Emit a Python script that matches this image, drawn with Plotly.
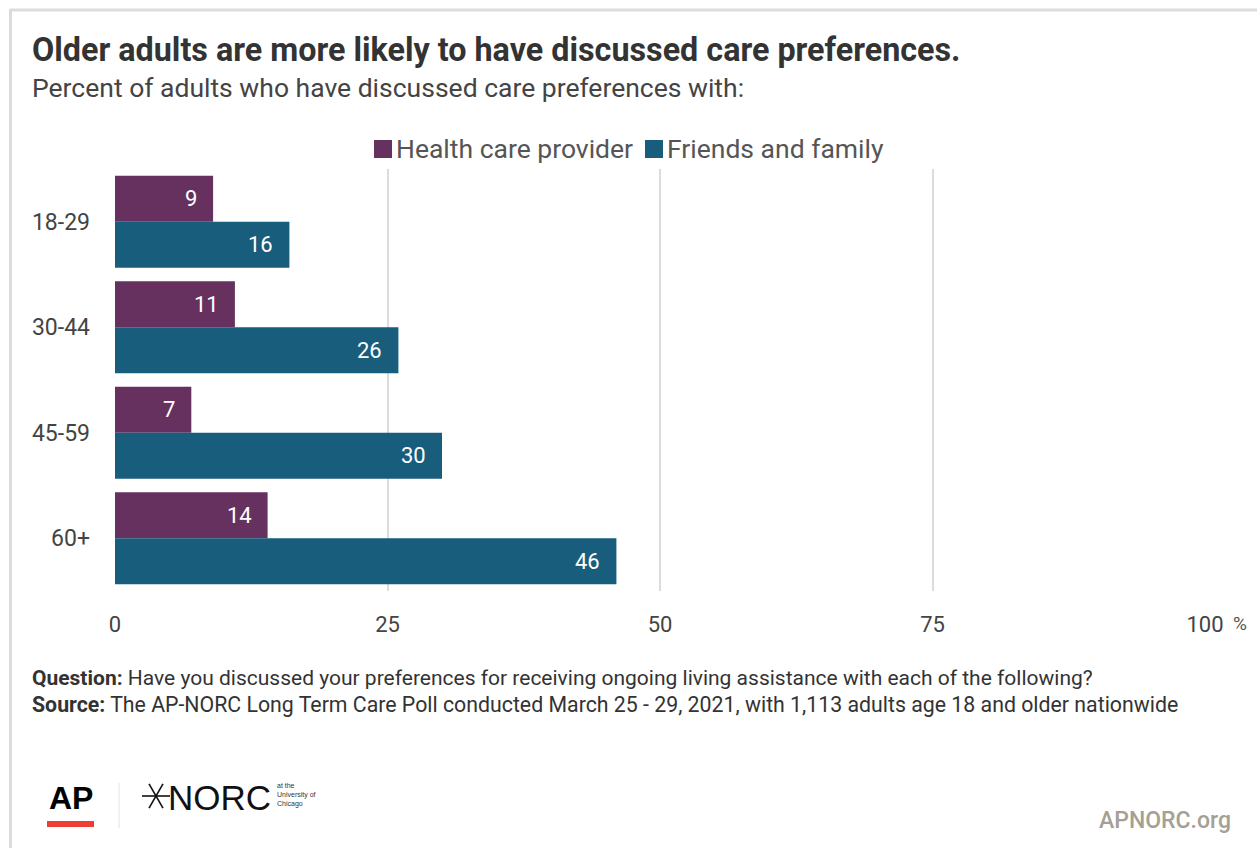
import math
import plotly.graph_objects as go

# Survey results (percent)
age_groups = ["18-29", "30-44", "45-59", "60+"]
health_care_provider = [9, 11, 7, 14]
friends_and_family = [16, 26, 30, 46]
series_names = ["Health care provider", "Friends and family"]
x_ticks = [0, 25, 50, 75, 100]

PURPLE = "#66305F"
TEAL = "#185D7C"
FONT = "Roboto"

W, H = 1257, 848
L, R, T, B = 115, 52, 169, 257
PW = W - L - R
PH = H - T - B


def px(x):
    return (x - L) / PW


def py(y):
    return (H - B - y) / PH


fig = go.Figure()
for name, vals, color in [(series_names[0], health_care_provider, PURPLE),
                          (series_names[1], friends_and_family, TEAL)]:
    fig.add_trace(go.Bar(
        y=age_groups, x=vals, name=name, orientation="h",
        marker=dict(color=color, line=dict(width=0)),
        showlegend=False, hoverinfo="x+y",
    ))

annotations = []
shapes = []

# value labels inside the bar ends
for i, vals in enumerate([health_care_provider, friends_and_family]):
    for g, v in zip(age_groups, vals):
        annotations.append(dict(
            x=v, y=g, xref="x", yref="y", text=str(v), showarrow=False,
            xanchor="right", xshift=-14, yshift=(1 if i == 0 else -1) * 23,
            font=dict(family=FONT, size=22, color="white"),
        ))

# title, subtitle
annotations.append(dict(x=px(30), y=py(50), xref="paper", yref="paper", xanchor="left",
                        yanchor="middle", showarrow=False,
                        text="<b>Older adults are more likely to have discussed care preferences.</b>",
                        font=dict(family=FONT, size=32.3, color="#333333")))
annotations.append(dict(x=px(30), y=py(87), xref="paper", yref="paper", xanchor="left",
                        yanchor="middle", showarrow=False,
                        text="Percent of adults who have discussed care preferences with:",
                        font=dict(family=FONT, size=26.5, color="#444444")))

# legend
leg = [(374, PURPLE, series_names[0]), (645, TEAL, series_names[1])]
for x0, c, name in leg:
    shapes.append(dict(type="rect", xref="paper", yref="paper",
                       x0=px(x0), x1=px(x0 + 18), y0=py(158), y1=py(140),
                       fillcolor=c, line=dict(width=0)))
    annotations.append(dict(x=px(x0 + 20), y=py(148), xref="paper", yref="paper",
                            xanchor="left", yanchor="middle", showarrow=False, text=name,
                            font=dict(family=FONT, size=26.5, color="#555555")))

# percent unit after last tick
annotations.append(dict(x=100, y=py(623), xref="x", yref="paper", xanchor="left",
                        yanchor="middle", xshift=26, showarrow=False, text="%",
                        font=dict(family=FONT, size=19, color="#555555")))

# notes
annotations.append(dict(x=px(30), y=py(678), xref="paper", yref="paper", xanchor="left",
                        yanchor="middle", showarrow=False,
                        text="<b>Question:</b> Have you discussed your preferences for receiving ongoing living assistance with each of the following?",
                        font=dict(family=FONT, size=21, color="#333333")))
annotations.append(dict(x=px(30), y=py(704), xref="paper", yref="paper", xanchor="left",
                        yanchor="middle", showarrow=False,
                        text="<b>Source:</b> The AP-NORC Long Term Care Poll conducted March 25 - 29, 2021, with 1,113 adults age 18 and older nationwide",
                        font=dict(family=FONT, size=21.3, color="#333333")))

# AP logo
annotations.append(dict(x=px(71), y=py(798), xref="paper", yref="paper", xanchor="center",
                        yanchor="middle", showarrow=False, text="<b>AP</b>",
                        font=dict(family="Liberation Sans", size=32, color="#000000")))
shapes.append(dict(type="rect", xref="paper", yref="paper", x0=px(47), x1=px(94),
                   y0=py(827), y1=py(821), fillcolor="#EF3E36", line=dict(width=0)))
shapes.append(dict(type="line", xref="paper", yref="paper", x0=px(119), x1=px(119),
                   y0=py(783), y1=py(828), line=dict(color="#e3e3e3", width=1)))

# NORC logo: thin six-point star + wordmark
cx, cy, r = 156, 796, 14
for ang in (0, 60, 120):
    a = math.radians(ang)
    shapes.append(dict(type="line", xref="paper", yref="paper",
                       x0=px(cx - r * math.cos(a)), x1=px(cx + r * math.cos(a)),
                       y0=py(cy - r * math.sin(a)), y1=py(cy + r * math.sin(a)),
                       line=dict(color="#111111", width=1.6)))
annotations.append(dict(x=px(166), y=py(797), xref="paper", yref="paper", xanchor="left",
                        yanchor="middle", showarrow=False, text="NORC",
                        font=dict(family="Liberation Sans", size=35, color="#111111")))
annotations.append(dict(x=px(275), y=py(795), xref="paper", yref="paper", xanchor="left",
                        yanchor="middle", showarrow=False, align="left",
                        text="at the<br>University of<br>Chicago",
                        font=dict(family="Liberation Sans", size=7, color="#333333")))

annotations.append(dict(x=px(1233), y=py(820), xref="paper", yref="paper", xanchor="right",
                        yanchor="middle", showarrow=False, text="APNORC.org",
                        font=dict(family=FONT, size=23, color="#A59F94", weight=500)))

# frame
shapes.append(dict(type="line", xref="paper", yref="paper", x0=px(10), x1=px(1257),
                   y0=py(10), y1=py(10), line=dict(color="#DCDCDC", width=3)))
shapes.append(dict(type="line", xref="paper", yref="paper", x0=px(10.5), x1=px(10.5),
                   y0=py(9), y1=py(848), line=dict(color="#DCDCDC", width=3)))

fig.update_layout(
    width=W, height=H,
    margin=dict(l=L, r=R, t=T, b=B, pad=0),
    paper_bgcolor="white", plot_bgcolor="white",
    barmode="group", bargap=0.128, bargroupgap=0,
    annotations=annotations, shapes=shapes,
    font=dict(family=FONT, color="#444444"),
    xaxis=dict(range=[0, 100], tickvals=x_ticks, ticktext=[str(t) for t in x_ticks],
               showgrid=True, gridcolor="#DCDCDC", gridwidth=2, zeroline=False,
               showline=False, ticks="", ticklabelstandoff=18,
               tickfont=dict(family=FONT, size=22, color="#444444")),
    yaxis=dict(autorange="reversed", showgrid=False, zeroline=False, showline=False,
               ticks="", ticklabelstandoff=24,
               tickfont=dict(family=FONT, size=23, color="#444444")),
)

fig.write_html("out.html")
